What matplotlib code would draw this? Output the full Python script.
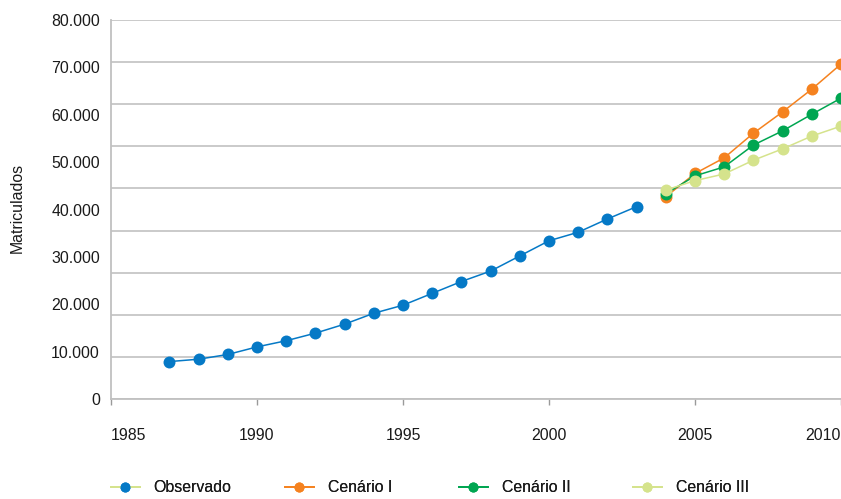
import matplotlib
matplotlib.use("Agg")
import matplotlib.pyplot as plt
from matplotlib.lines import Line2D
import numpy as np

plt.rcParams["font.family"] = ["Liberation Sans", "DejaVu Sans"]

# Enrolment figures (Matriculados)
obs_years = list(range(1987, 2004))
observado = [7900, 8400, 9400, 11000, 12300, 13900, 15800, 18100, 19800,
             22300, 24800, 27000, 30200, 33400, 35200, 38000, 40600]

proj_years = list(range(2004, 2011))
cenario_1 = [42700, 47600, 50900, 56100, 60600, 65400, 70700]
cenario_2 = [43300, 47100, 49000, 53600, 56600, 60100, 63500]
cenario_3 = [44100, 46100, 47500, 50400, 52800, 55500, 57600]

x_ticks = [1985, 1990, 1995, 2000, 2005, 2010]
y_ticks = [0, 10000, 20000, 30000, 40000, 50000, 60000, 70000, 80000]
y_tick_labels = ["0", "10.000", "20.000", "30.000", "40.000",
                 "50.000", "60.000", "70.000", "80.000"]

series_names = ["Observado", "Cenário I", "Cenário II", "Cenário III"]
c_obs = "#0579C6"
c_1 = "#F5821F"
c_2 = "#00A651"
c_3 = "#D5E38C"
text_c = "#1a1a1a"
grid_c = "#c6c6c6"
fs = 11.4

W, H = 841, 499
fig = plt.figure(figsize=(W / 100, H / 100), dpi=100)
ax = fig.add_axes([111 / W, 1 - 399 / H, 730 / W, 379 / H])

ms = 8.6
ax.plot(obs_years, observado, color=c_obs, lw=1.1, marker="o", ms=ms,
        mec=c_obs, mew=0, zorder=3)
ax.plot(proj_years, cenario_1, color=c_1, lw=1.1, marker="o", ms=ms,
        mec=c_1, mew=0, zorder=3)
ax.plot(proj_years, cenario_2, color=c_2, lw=1.1, marker="o", ms=ms,
        mec=c_2, mew=0, zorder=4)
ax.plot(proj_years, cenario_3, color=c_3, lw=1.1, marker="o", ms=ms,
        mec=c_3, mew=0, zorder=5)

ax.set_xlim(1985, 2010)
ax.set_ylim(0, 80000)

ax.set_xticks(x_ticks)
ax.set_xticklabels([str(v) for v in x_ticks])
ax.set_yticks(y_ticks)
ax.set_yticklabels(y_tick_labels)

# horizontal guide lines split the value range into nine bands
ax.yaxis.remove_overlapping_locs = False
ax.set_yticks(np.linspace(0, 80000, 10), minor=True)
ax.grid(False)
ax.grid(True, axis="y", which="minor", color=grid_c, lw=1.3, zorder=0)
ax.tick_params(axis="y", which="both", length=0, pad=8, labelsize=fs,
               labelcolor=text_c)
ax.tick_params(axis="x", which="major", direction="out", length=4, width=1,
               color="#9a9a9a", pad=17, labelsize=fs, labelcolor=text_c)

xl = ax.get_xticklabels()
xl[0].set_ha("left")
xl[-1].set_ha("right")

for side in ("top", "right"):
    ax.spines[side].set_visible(False)
for side in ("left", "bottom"):
    ax.spines[side].set_color("#c0c0c0")
    ax.spines[side].set_linewidth(1.3)

fig.text(17.5 / W, 1 - 208 / H, "Matriculados", rotation=90, ha="center",
         va="center", fontsize=fs, color=text_c)

# legend entries laid out in four evenly spaced slots
handles = [
    Line2D([], [], color=c_3, lw=1.3, marker="o", ms=7.2, mfc=c_obs, mec=c_obs, mew=0),
    Line2D([], [], color=c_1, lw=1.3, marker="o", ms=7.2, mfc=c_1, mec=c_1, mew=0),
    Line2D([], [], color=c_2, lw=1.3, marker="o", ms=7.2, mfc=c_2, mec=c_2, mew=0),
    Line2D([], [], color=c_3, lw=1.3, marker="o", ms=7.2, mfc=c_3, mec=c_3, mew=0),
]
slots = [111, 285, 459, 633]
for h, name, xs in zip(handles, series_names, slots):
    leg = fig.legend([h], [name], loc="center left",
                     bbox_to_anchor=(xs / W, 1 - 488 / H), frameon=False,
                     borderpad=0, borderaxespad=0, handlelength=1.8,
                     handletextpad=0.9, fontsize=fs, labelcolor=text_c)
    fig.add_artist(leg)

fig.savefig("out.png", dpi=100)
